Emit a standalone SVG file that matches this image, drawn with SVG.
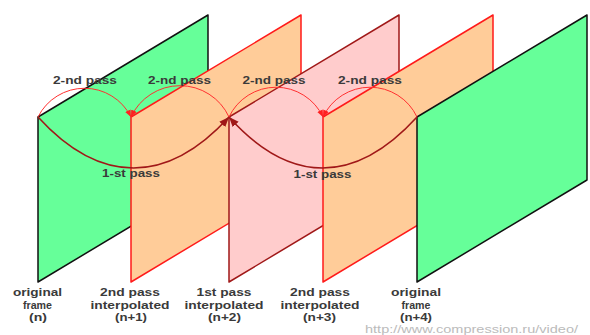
<svg xmlns="http://www.w3.org/2000/svg" width="590" height="335" viewBox="0 0 590 335">
<style>
.orig{fill:#66FF99;stroke:#111;stroke-width:1.5;stroke-linejoin:round}
.p2{fill:#FFCC99;stroke:#FF1A1A;stroke-width:1.5;stroke-linejoin:round}
.p1{fill:#FFCCCC;stroke:#A01818;stroke-width:1.5;stroke-linejoin:round}
.a2{fill:none;stroke:#FF3030;stroke-width:1;marker-end:url(#ar2)}
.a1{fill:none;stroke:#A01818;stroke-width:1.6;marker-end:url(#ar1)}
.t{font-family:"Liberation Sans",Arial,sans-serif;font-size:11px;font-weight:bold;fill:#3a3a3a;text-anchor:middle}
.url{font-family:"Liberation Sans",Arial,sans-serif;font-size:11px;fill:#bbb}
</style>
<defs>
<marker id="ar2" markerWidth="8" markerHeight="8" refX="7" refY="4" orient="auto" markerUnits="userSpaceOnUse">
<path d="M0,1 L7,4 L0,7 z" fill="#FF2020"/>
</marker>
<marker id="ar1" markerWidth="12" markerHeight="10" refX="10" refY="5" orient="auto" markerUnits="userSpaceOnUse">
<path d="M0,1 L10,5 L0,9 z" fill="#A01818"/>
</marker>
</defs>
<g id="frame-n"><polygon class="orig" points="38,117 208,15 208,180 38,282"/></g>
<g id="frame-n1"><polygon class="p2" points="131,117 301,15 301,180 131,282"/></g>
<g id="frame-n2"><polygon class="p1" points="229,117 399,15 399,180 229,282"/></g>
<g id="frame-n3"><polygon class="p2" points="323,117 493,15 493,180 323,282"/></g>
<g id="frame-n4"><polygon class="orig" points="417,117 587,15 587,180 417,282"/></g>
<g id="connectors">
<path class="a2" d="M38,117 A52,52 0 0 1 131,117"/>
<path class="a2" d="M229,117 A54,54 0 0 0 131,117"/>
<path class="a2" d="M229,117 A52,52 0 0 1 323,117"/>
<path class="a2" d="M417,117 A52,52 0 0 0 323,117"/>
<path class="a1" d="M38,117 C100,185 167,185 229,117"/>
<path class="a1" d="M417,117 C355,185 290,185 229,117"/>
</g>
<g id="labels">
<text class="t" x="85" y="84" textLength="64" lengthAdjust="spacingAndGlyphs">2-nd pass</text>
<text class="t" x="179.5" y="84" textLength="63" lengthAdjust="spacingAndGlyphs">2-nd pass</text>
<text class="t" x="274" y="84" textLength="63" lengthAdjust="spacingAndGlyphs">2-nd pass</text>
<text class="t" x="370" y="84" textLength="64" lengthAdjust="spacingAndGlyphs">2-nd pass</text>
<text class="t" x="131" y="177" textLength="58" lengthAdjust="spacingAndGlyphs">1-st pass</text>
<text class="t" x="322.5" y="178" textLength="58" lengthAdjust="spacingAndGlyphs">1-st pass</text>
<text class="t" x="37.5" y="296" textLength="49" lengthAdjust="spacingAndGlyphs">original</text>
<text class="t" x="37.5" y="309" textLength="29" lengthAdjust="spacingAndGlyphs">frame</text>
<text class="t" x="38" y="321" textLength="18" lengthAdjust="spacingAndGlyphs">(n)</text>
<text class="t" x="130" y="296" textLength="60" lengthAdjust="spacingAndGlyphs">2nd pass</text>
<text class="t" x="130" y="309" textLength="79" lengthAdjust="spacingAndGlyphs">interpolated</text>
<text class="t" x="131" y="321" textLength="32" lengthAdjust="spacingAndGlyphs">(n+1)</text>
<text class="t" x="224" y="296" textLength="55" lengthAdjust="spacingAndGlyphs">1st pass</text>
<text class="t" x="224" y="309" textLength="79" lengthAdjust="spacingAndGlyphs">interpolated</text>
<text class="t" x="224.5" y="321" textLength="33" lengthAdjust="spacingAndGlyphs">(n+2)</text>
<text class="t" x="320" y="296" textLength="60" lengthAdjust="spacingAndGlyphs">2nd pass</text>
<text class="t" x="320" y="309" textLength="79" lengthAdjust="spacingAndGlyphs">interpolated</text>
<text class="t" x="319.5" y="321" textLength="33" lengthAdjust="spacingAndGlyphs">(n+3)</text>
<text class="t" x="416" y="296" textLength="50" lengthAdjust="spacingAndGlyphs">original</text>
<text class="t" x="416" y="309" textLength="29" lengthAdjust="spacingAndGlyphs">frame</text>
<text class="t" x="416" y="321" textLength="32" lengthAdjust="spacingAndGlyphs">(n+4)</text>
<text class="url" x="365" y="333" textLength="213" lengthAdjust="spacingAndGlyphs">http://www.compression.ru/video/</text>
</g>
</svg>
